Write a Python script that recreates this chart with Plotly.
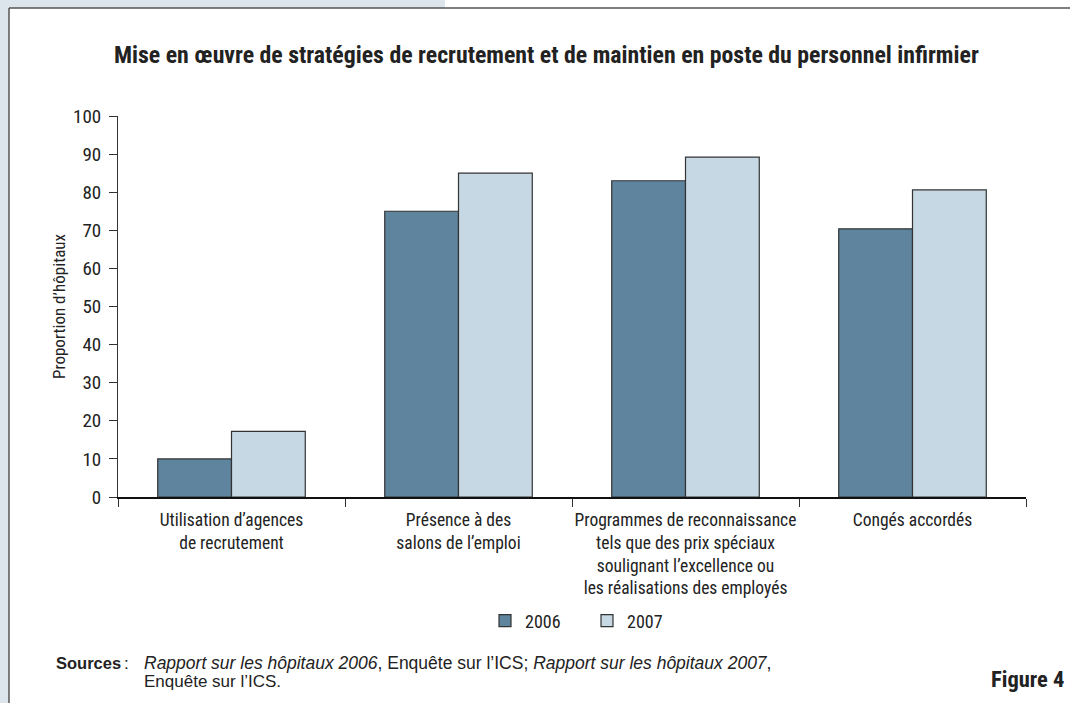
import plotly.graph_objects as go

categories = [
    "Utilisation d’agences<br>de recrutement",
    "Présence à des<br>salons de l’emploi",
    "Programmes de reconnaissance<br>tels que des prix spéciaux<br>soulignant l’excellence ou<br>les réalisations des employés",
    "Congés accordés",
]
values_2006 = [10, 75, 83, 70.4]
values_2007 = [17.2, 85, 89.2, 80.6]
series_names = ["2006", "2007"]
y_ticks = [0, 10, 20, 30, 40, 50, 60, 70, 80, 90, 100]

W, H = 1070, 703
L, R, T, B = 118, 1026, 116, 497
NARROW = "Liberation Sans Narrow, Arial Narrow, Roboto Condensed, sans-serif"
REGULAR = "Liberation Sans, Arial, sans-serif"
INK = "#222222"


def px_x(p):
    return (p - L) / (R - L)


def px_y(p):
    return (B - p) / (B - T)


fig = go.Figure()
fig.add_trace(go.Bar(
    x=categories, y=values_2006, name=series_names[0],
    marker=dict(color="#5E849E", line=dict(color="#333333", width=1.2)),
))
fig.add_trace(go.Bar(
    x=categories, y=values_2007, name=series_names[1],
    marker=dict(color="#C5D8E3", line=dict(color="#333333", width=1.2)),
))

shapes = [
    # light frame around the panel
    dict(type="rect", xref="paper", yref="paper", layer="below",
         x0=px_x(0), x1=px_x(9), y0=px_y(H), y1=px_y(0),
         fillcolor="#DCE4EC", line=dict(width=0)),
    dict(type="rect", xref="paper", yref="paper", layer="below",
         x0=px_x(0), x1=px_x(445), y0=px_y(8), y1=px_y(0),
         fillcolor="#DCE4EC", line=dict(width=0)),
    dict(type="line", xref="paper", yref="paper",
         x0=px_x(9), x1=px_x(9), y0=px_y(8), y1=px_y(H),
         line=dict(color="#555555", width=1.5)),
    dict(type="line", xref="paper", yref="paper",
         x0=px_x(9), x1=px_x(W), y0=px_y(8), y1=px_y(8),
         line=dict(color="#555555", width=1.5)),
]


def note(text, x, y, font, size, xanchor="left"):
    return dict(text=text, xref="paper", yref="paper", x=px_x(x), y=px_y(y),
                showarrow=False, xanchor=xanchor, yanchor="middle", align="left",
                font=dict(family=font, size=size, color=INK))


annotations = [
    note("<b>Mise en œuvre de stratégies de recrutement et de maintien en poste du personnel infirmier</b>",
         546, 55, NARROW, 23.8, xanchor="center"),
    note("<b>Sources</b>", 54, 663, REGULAR, 16.5),
    note(":", 122, 663, REGULAR, 17),
    note("<i>Rapport sur les hôpitaux 2006</i>, Enquête sur l’ICS; "
         "<i>Rapport sur les hôpitaux 2007</i>,", 142, 663, REGULAR, 17.5),
    note("Enquête sur l’ICS.", 142, 681, REGULAR, 17),
    note("<b>Figure 4</b>", 1066, 679, NARROW, 22.5, xanchor="right"),
]

fig.update_layout(
    width=W, height=H,
    margin=dict(l=L, r=W - R, t=T, b=H - B),
    paper_bgcolor="white", plot_bgcolor="white",
    barmode="group", bargap=0.35, bargroupgap=0,
    font=dict(family=NARROW, size=17, color=INK),
    showlegend=True,
    legend=dict(orientation="h", x=px_x(485), y=px_y(621),
                xanchor="left", yanchor="middle",
                font=dict(family=NARROW, size=18), itemwidth=30,
                entrywidth=57, traceorder="normal"),
    shapes=shapes,
    annotations=annotations,
    xaxis=dict(
        showline=True, linecolor="#111111", linewidth=2,
        ticks="outside", tickson="boundaries", ticklen=8, tickcolor="#333333",
        tickwidth=1, tickangle=0, showgrid=False, ticklabelstandoff=6,
        tickfont=dict(family=NARROW, size=17.5),
    ),
    yaxis=dict(
        range=[0, 100], tickvals=y_ticks,
        showline=True, linecolor="#333333", linewidth=1,
        ticks="outside", ticklen=8, tickcolor="#333333", showgrid=False,
        zeroline=False, ticklabelstandoff=4,
        tickfont=dict(family=NARROW, size=19),
        title=dict(text="Proportion d’hôpitaux", standoff=3,
                   font=dict(family=NARROW, size=17)),
    ),
)

# the page's default body margin would shift the figure by 8 px
fig.write_html("out.html", config={"displayModeBar": False},
               post_script="document.body.style.margin='0';")
